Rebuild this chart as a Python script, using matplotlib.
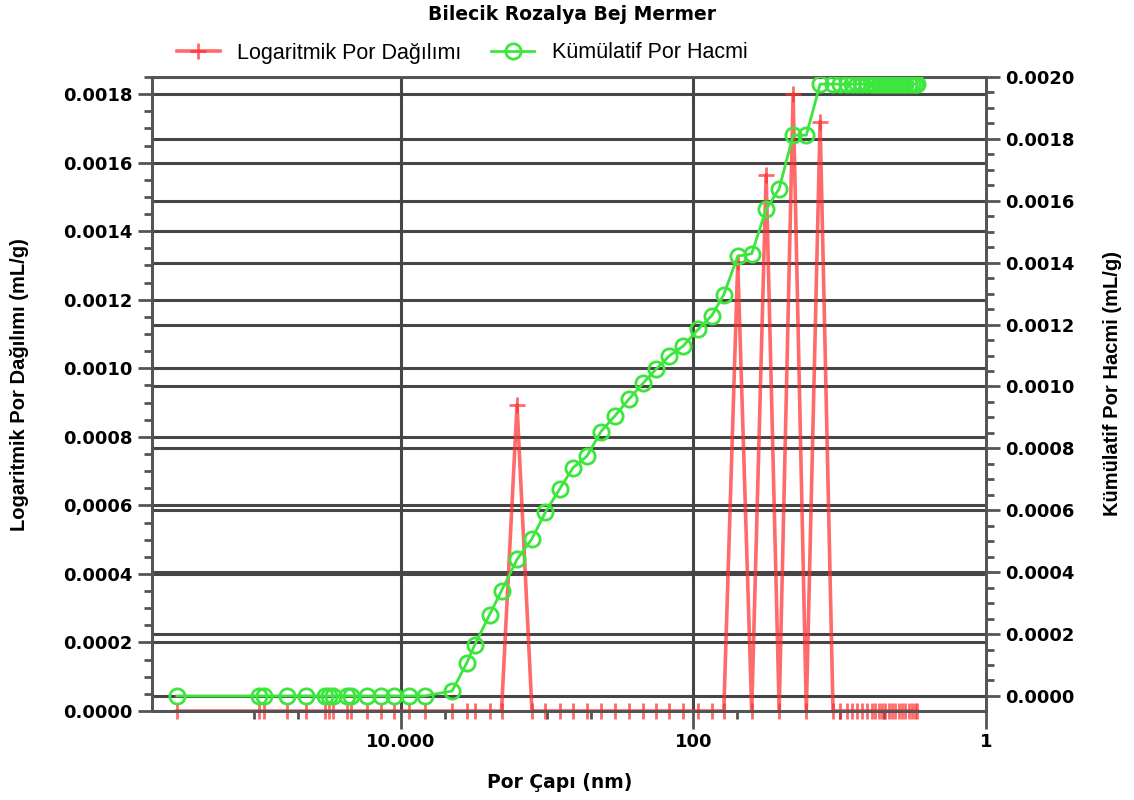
import matplotlib
matplotlib.use("Agg")
import matplotlib.pyplot as plt
import matplotlib.transforms as mtransforms
from matplotlib.ticker import FixedLocator, FixedFormatter, MultipleLocator, NullFormatter

# pore diameter (nm) for each intrusion step
por_capi = [338000, 92700, 86500, 59500, 44500, 32760, 30770, 29120, 23370, 21770,
            17070, 13690, 11080, 8820, 6860, 4450, 3545, 3125, 2470, 2045,
            1602, 1266, 1024, 821, 664.5, 533, 428, 343.5, 275.6, 221.2,
            178.9, 145.8, 117.0, 92.5, 74.8, 61.9, 49.7, 39.9, 31.8, 25.9,
            20.8, 16.9, 13.6, 11.1, 9.92, 8.96, 8.28, 7.66, 7.08, 6.54,
            6.05, 5.72, 5.42, 5.13, 4.89, 4.63, 4.38, 4.18, 3.96, 3.74,
            3.57, 3.38, 3.20, 3.05, 2.96]

# log differential intrusion (mL/g)
log_dagilim = [0, 0, 0, 0, 0, 0, 0, 0, 0, 0,
               0, 0, 0, 0, 0, 0, 0, 0, 0, 0,
               0.000893, 0, 0, 0, 0, 0, 0, 0, 0, 0,
               0, 0, 0, 0, 0, 0, 0.00131, 0, 0.001565, 0,
               0.00180, 0, 0.00172, 0, 0, 0, 0, 0, 0, 0,
               0, 0, 0, 0, 0, 0, 0, 0, 0, 0,
               0, 0, 0, 0, 0]

# cumulative intrusion volume (mL/g)
kumulatif = [0, 0, 0, 0, 0, 0, 0, 0, 0, 0,
             0, 0, 0, 0, 0, 0.000016, 0.000105, 0.000164, 0.000262, 0.000340,
             0.000441, 0.000508, 0.000594, 0.000668, 0.000737, 0.000775, 0.000854, 0.000905, 0.000959, 0.001010,
             0.001057, 0.001099, 0.001131, 0.001185, 0.001229, 0.001297, 0.001421, 0.001429, 0.001572, 0.001639,
             0.001812, 0.001812, 0.001977, 0.001977, 0.001977, 0.001977, 0.001977, 0.001977, 0.001977, 0.001977,
             0.001977, 0.001977, 0.001977, 0.001977, 0.001977, 0.001977, 0.001977, 0.001977, 0.001977, 0.001977,
             0.001977, 0.001977, 0.001977, 0.001977, 0.001977]

x_ticks = [1e4, 1e2, 1]
x_tick_labels = ["10.000", "100", "1"]
x_minor = [1e5, 5e4, 5e3, 1e3, 5e2, 50, 10, 5]

left_ticks = [0, 0.0002, 0.0004, 0.0006, 0.0008, 0.0010, 0.0012, 0.0014, 0.0016, 0.0018]
left_labels = ["0.0000", "0.0002", "0.0004", "0,0006", "0.0008", "0.0010",
               "0.0012", "0.0014", "0.0016", "0.0018"]
right_ticks = [0, 0.0002, 0.0004, 0.0006, 0.0008, 0.0010, 0.0012, 0.0014, 0.0016, 0.0018, 0.0020]
right_labels = ["%.4f" % v for v in right_ticks]

plt.rcParams["font.family"] = ["Liberation Sans", "DejaVu Sans"]

GRID = "#464646"
SPINE = "#555555"
RED = "#ff3030"
GREEN = "#3de63d"

fig = plt.figure(figsize=(11.34, 8.0), dpi=100)
ax = fig.add_axes([152 / 1134, 1 - 711 / 800, (986 - 152) / 1134, (711 - 77) / 800])
ax2 = ax.twinx()

ax.set_xscale("log")
ax.set_xlim(5e5, 1)
ax.set_ylim(0, 0.00185)
ax2.set_ylim(-0.0000486, 0.0020)

# grid: verticals at the labelled decades, horizontals for both y scales
for xv in x_ticks[:-1]:
    ax.axvline(xv, color=GRID, lw=2.2, zorder=0.5)
for v in left_ticks:
    ax.axhline(v, color=GRID, lw=2.2, zorder=0.5)
blend = mtransforms.blended_transform_factory(ax.transAxes, ax2.transData)
for v in right_ticks:
    ax.plot([0, 1], [v, v], transform=blend, color=GRID, lw=2.2, zorder=0.5)

red_line, = ax.plot(por_capi, log_dagilim, color=RED, lw=2.6, alpha=0.72,
                    marker="+", ms=11, mew=2, clip_on=False, zorder=2,
                    label="Logaritmik Por Dağılımı")
green_line, = ax2.plot(por_capi, kumulatif, color=GREEN, lw=2,
                       marker="o", ms=11, mfc="none", mec=GREEN, mew=2,
                       zorder=3, label="Kümülatif Por Hacmi")

# x axis ticks
ax.xaxis.set_major_locator(FixedLocator(x_ticks))
ax.xaxis.set_major_formatter(FixedFormatter(x_tick_labels))
ax.xaxis.set_minor_locator(FixedLocator(x_minor))
ax.xaxis.set_minor_formatter(NullFormatter())

# y axes ticks
ax.yaxis.set_major_locator(FixedLocator(left_ticks))
ax.yaxis.set_major_formatter(FixedFormatter(left_labels))
ax.yaxis.set_minor_locator(MultipleLocator(0.00005))
ax2.yaxis.set_major_locator(FixedLocator(right_ticks))
ax2.yaxis.set_major_formatter(FixedFormatter(right_labels))
ax2.yaxis.set_minor_locator(MultipleLocator(0.00005))

for a in (ax, ax2):
    a.tick_params(which="major", direction="out", length=10, width=2, color=SPINE,
                  labelsize=13, pad=4)
    a.tick_params(which="minor", direction="out", length=6, width=2, color=SPINE)
    for lab in a.get_xticklabels() + a.get_yticklabels():
        lab.set_fontweight("bold")
        lab.set_family(["DejaVu Sans"])
    for sp in a.spines.values():
        sp.set_color(SPINE)
        sp.set_linewidth(2)
ax.tick_params(axis="x", which="major", length=13, pad=3)

fig.text(572 / 1134, 1 - 15 / 800, "Bilecik Rozalya Bej Mermer", ha="center", va="center",
         fontsize=13.5, fontweight="bold", family=["DejaVu Sans"])
fig.legend(handles=[red_line, green_line], loc="center", ncol=2, frameon=False,
           bbox_to_anchor=(462 / 1134, 1 - 53 / 800), fontsize=15.5, handlelength=2.0,
           columnspacing=1.4, handletextpad=0.8)
fig.text(560 / 1134, 1 - 782 / 800, "Por Çapı (nm)", ha="center", va="center",
         fontsize=13.5, fontweight="bold", family=["DejaVu Sans"])
fig.text(20 / 1134, 1 - 385 / 800, "Logaritmik Por Dağılımı (mL/g)", ha="center", va="center",
         rotation=90, fontsize=14.5, fontweight="bold")
fig.text(1113 / 1134, 1 - 383 / 800, "Kümülatif Por Hacmi (mL/g)", ha="center", va="center",
         rotation=90, fontsize=14.5, fontweight="bold")

fig.savefig("out.png", dpi=100)
